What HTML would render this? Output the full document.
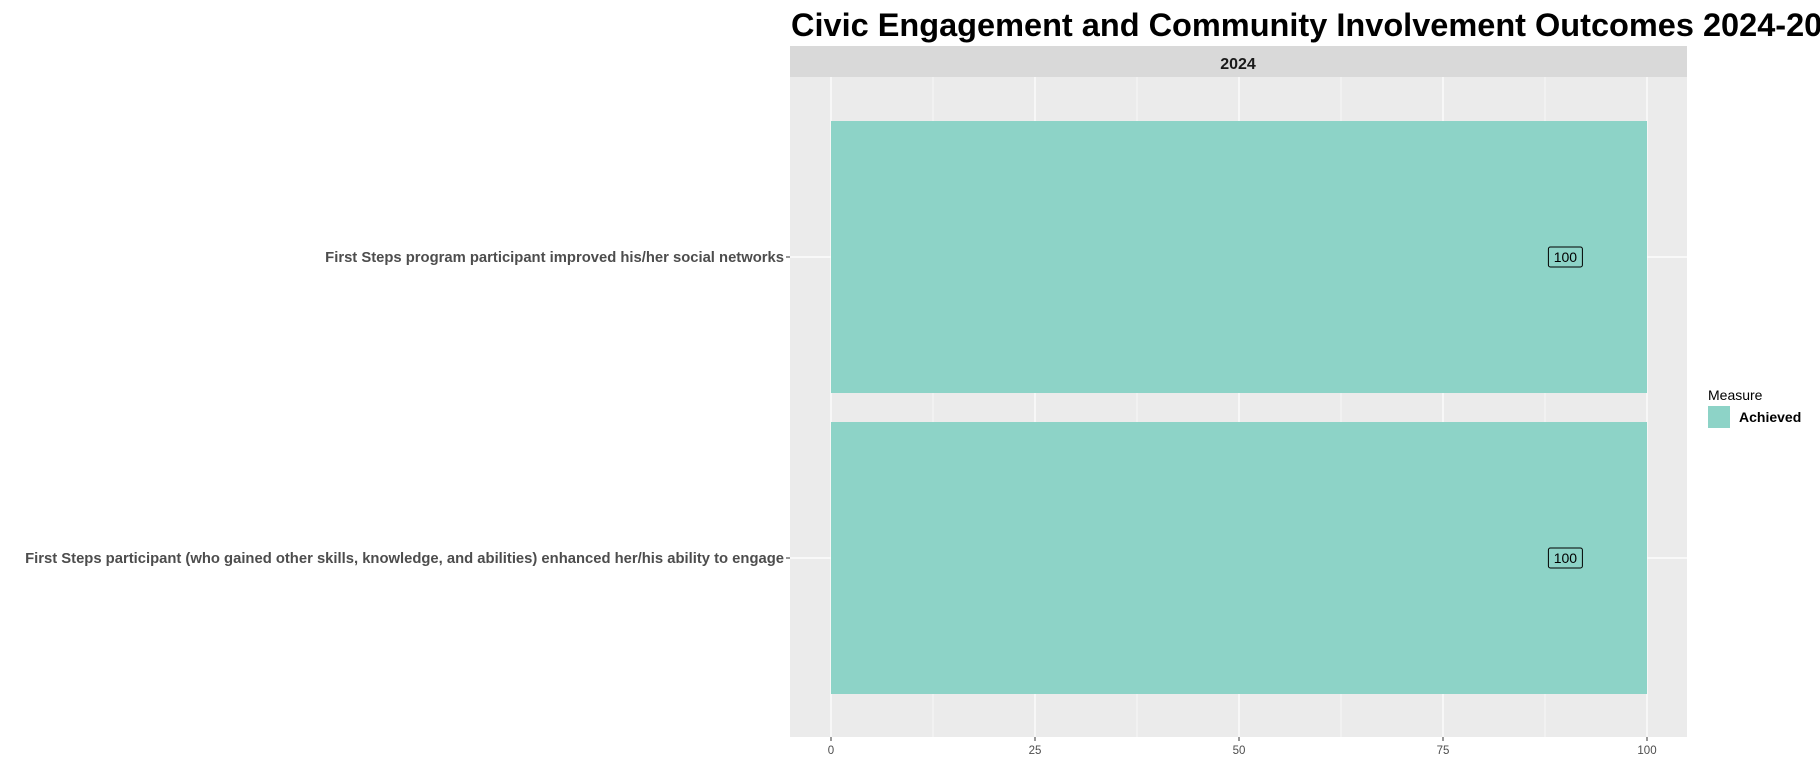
<!DOCTYPE html>
<html><head><meta charset="utf-8"><style>
body{margin:0;background:#fff;}
svg{display:block;font-family:"Liberation Sans",Arial,sans-serif;}
</style></head><body>
<svg width="1820" height="783">
<text x="791" y="36" font-size="32.5" font-weight="bold" fill="#000">Civic Engagement and Community Involvement Outcomes 2024-2025</text>
<rect x="790" y="46" width="897" height="31" fill="#d9d9d9"/>
<text x="1238" y="69" font-size="16" font-weight="bold" text-anchor="middle" fill="#1a1a1a">2024</text>
<rect x="790" y="77" width="897" height="660" fill="#ebebeb"/>
<g id="grid"></g><g id="bars"></g><g id="labels"></g><g id="axes"></g>
<text x="1708" y="400" font-size="14" fill="#000">Measure</text>
<rect x="1708" y="406" width="22" height="22" fill="#8dd3c7"/>
<text x="1739" y="422" font-size="14" font-weight="bold" fill="#000">Achieved</text>
</svg>
<script>
const categories=["First Steps program participant improved his/her social networks","First Steps participant (who gained other skills, knowledge, and abilities) enhanced her/his ability to engage"];
const values=[100,100];
const ticks=[0,25,50,75,100];
const NS="http://www.w3.org/2000/svg";
const x=v=>831+v*8.16;
const yc=i=>257+i*301;
const bh=272;
function mk(t,a,p,txt){const e=document.createElementNS(NS,t);for(const k in a)e.setAttribute(k,a[k]);if(txt!=null)e.textContent=txt;document.getElementById(p).appendChild(e);return e;}
const panelTop=77,panelBot=737;
for(let i=0;i<ticks.length-1;i++){const m=(ticks[i]+ticks[i+1])/2;
const g=mk('line',{x1:x(m),x2:x(m),y1:panelTop,y2:panelBot,stroke:'#fff','stroke-width':0.6},'grid');

}
ticks.forEach(t=>{
const g=mk('line',{x1:x(t),x2:x(t),y1:panelTop,y2:panelBot,stroke:'#fff','stroke-width':1.2},'grid');


const tk=mk('line',{x1:x(t),x2:x(t),y1:panelBot,y2:panelBot+4,stroke:'#333'},'axes');


const l=mk('text',{x:x(t),y:panelBot+17,'font-size':11.5,'text-anchor':'middle',fill:'#4d4d4d'},'axes',t);


});
categories.forEach((c,i)=>{
const g=mk('line',{x1:790,x2:1687,y1:yc(i),y2:yc(i),stroke:'#fff','stroke-width':1.2},'grid');


const b=mk('rect',{x:x(0),y:yc(i)-bh/2,width:x(values[i])-x(0),height:bh,fill:'#8dd3c7'},'bars');


const r=mk('rect',{x:x(values[i]*0.9)-17,y:yc(i)-10,width:34,height:20,rx:2,fill:'#8dd3c7',stroke:'#000','stroke-width':1},'labels');


const t=mk('text',{x:x(values[i]*0.9),y:yc(i)+5,'font-size':14,'text-anchor':'middle',fill:'#000'},'labels',values[i]);


const tk=mk('line',{x1:786,x2:790,y1:yc(i),y2:yc(i),stroke:'#333'},'axes');


const yl=mk('text',{x:784,y:yc(i)+5,'font-size':14.8,'font-weight':'bold','text-anchor':'end',fill:'#4d4d4d'},'axes',c);


});
</script>
</body></html>
